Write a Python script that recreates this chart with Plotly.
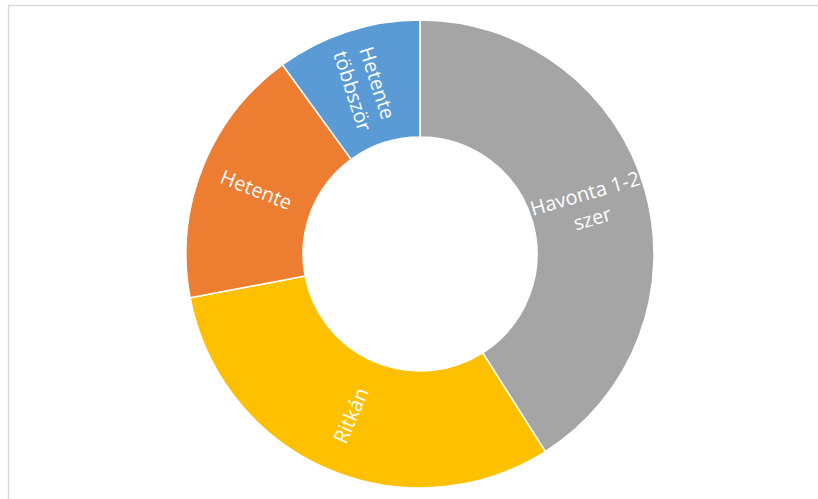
import math
import plotly.graph_objects as go

# Survey answers: how often
labels = ["Havonta 1-2 szer", "Ritkán", "Hetente", "Hetente többször"]
label_text = ["Havonta 1-2<br>szer", "Ritkán", "Hetente", "Hetente<br>többször"]
values = [41, 31, 18, 10]
colors = ["#A5A5A5", "#FFC000", "#ED7D31", "#5B9BD5"]

W, H = 818, 499
cx, cy, r = 420, 254, 234
hole = 0.5

fig = go.Figure(go.Pie(
    labels=labels,
    values=values,
    hole=hole,
    sort=False,
    direction="clockwise",
    rotation=0,
    marker=dict(colors=colors, line=dict(color="white", width=1.5)),
    textinfo="none",
    hoverinfo="label+value",
    domain=dict(x=[(cx - r) / W, (cx + r) / W],
                y=[(H - cy - r) / H, (H - cy + r) / H]),
))

# radial labels placed at the middle of each ring segment
total = sum(values)
r_lab = r * (1 + hole) / 2
start = 0.0
for txt, v in zip(label_text, values):
    mid = (start + v / 2) / total * 360.0
    start += v
    rad = math.radians(mid)
    px = cx + r_lab * math.sin(rad)
    py = cy - r_lab * math.cos(rad)
    ang = mid - 90.0
    while ang > 90:
        ang -= 180
    while ang <= -90:
        ang += 180
    fig.add_annotation(
        x=px / W, y=1 - py / H, xref="paper", yref="paper",
        text=txt, showarrow=False, textangle=ang,
        xanchor="center", yanchor="middle",
        font=dict(family="Open Sans", size=20, color="white"),
    )

# chart-area frame (top and left edges visible)
fig.add_shape(type="line", xref="paper", yref="paper",
              x0=8 / W, x1=1.0, y0=1 - 5.5 / H, y1=1 - 5.5 / H,
              line=dict(color="#D9D9D9", width=1.5))
fig.add_shape(type="line", xref="paper", yref="paper",
              x0=8.5 / W, x1=8.5 / W, y0=0, y1=1 - 5.5 / H,
              line=dict(color="#D9D9D9", width=1.5))

fig.update_layout(
    width=W, height=H,
    margin=dict(l=0, r=0, t=0, b=0),
    paper_bgcolor="white",
    plot_bgcolor="white",
    showlegend=False,
)

fig.write_html("out.html")
